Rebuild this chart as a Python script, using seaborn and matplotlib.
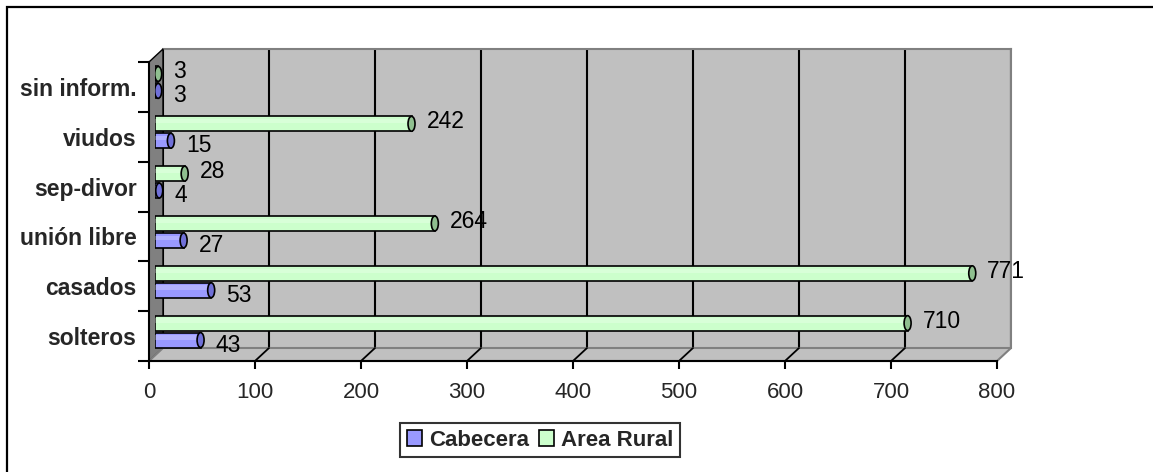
import matplotlib
matplotlib.use("Agg")
import matplotlib.pyplot as plt
import seaborn as sns
import pandas as pd
from matplotlib.patches import Polygon, Rectangle, Ellipse, Patch
from matplotlib.lines import Line2D

# ---- data (top to bottom) ----
categories = ['sin inform.', 'viudos', 'sep-divor', 'unión libre', 'casados', 'solteros']
cabecera = [3, 15, 4, 27, 53, 43]
area_rural = [3, 242, 28, 264, 771, 710]
series_names = ['Cabecera', 'Area Rural']
x_ticks = [0, 100, 200, 300, 400, 500, 600, 700, 800]

df = pd.DataFrame({
    'cat': categories * 2,
    'val': cabecera + area_rural,
    'serie': ['Cabecera'] * len(categories) + ['Area Rural'] * len(categories),
})

W, H = 1153, 472
sns.set_theme(style='white')
plt.rcParams['font.family'] = ['Liberation Sans', 'DejaVu Sans']

fig = plt.figure(figsize=(W / 100, H / 100), dpi=100)
fig.patch.set_facecolor('white')

def P(x, y):
    return (x / W, 1 - y / H)

def ax_rect(x0, x1, ytop, ybot):
    return [x0 / W, 1 - ybot / H, (x1 - x0) / W, (ybot - ytop) / H]

colors = {'Cabecera': '#9999FF', 'Area Rural': '#CCFFCC'}
caps = {'Cabecera': '#7070D8', 'Area Rural': '#8FBF8F'}

# geometry (pixels)
FX0, FX1, FY0, FY1 = 149, 997, 62, 361      # front plane
DX, DY = 14, -13                              # depth offset
MX, MY = 6, -4.5                              # bar plane offset

# back wall
axb = fig.add_axes(ax_rect(FX0 + DX, FX1 + DX, FY0 + DY, FY1 + DY), zorder=0)
axb.set_facecolor('#C0C0C0')
axb.set_xlim(0, 800)
axb.set_ylim(0, 1)
for s in axb.spines.values():
    s.set_color('#808080'); s.set_linewidth(1.5)
axb.spines['left'].set_visible(False)
axb.spines['bottom'].set_visible(False)
axb.set_xticks(x_ticks)
axb.set_yticks([])
axb.tick_params(axis='x', length=0, labelbottom=False)
axb.grid(axis='x', color='black', linewidth=1.5)

# left wall and floor
fig.patches.append(Polygon([P(FX0, FY0), P(FX0 + DX, FY0 + DY), P(FX0 + DX, FY1 + DY), P(FX0, FY1)],
                           closed=True, transform=fig.transFigure, facecolor='#808080',
                           edgecolor='black', linewidth=1, zorder=0.5))
fig.patches.append(Polygon([P(FX0, FY1), P(FX0 + DX, FY1 + DY), P(FX1 + DX, FY1 + DY), P(FX1, FY1)],
                           closed=True, transform=fig.transFigure, facecolor='#C0C0C0',
                           edgecolor='#808080', linewidth=1.5, zorder=0.5))
pxu = (FX1 - FX0) / 800
for t in x_ticks[1:-1]:
    x = FX0 + t * pxu
    fig.lines.append(Line2D([P(x, FY1)[0], P(x + DX, FY1 + DY)[0]],
                            [P(x, FY1)[1], P(x + DX, FY1 + DY)[1]],
                            transform=fig.transFigure, color='black', linewidth=1.3, zorder=0.6))

# bars plane
ax = fig.add_axes(ax_rect(FX0 + MX, FX1 + MX, FY0 + MY, FY1 + MY), zorder=1)
ax.patch.set_alpha(0)
sns.barplot(data=df, y='cat', x='val', hue='serie', order=categories,
            hue_order=['Area Rural', 'Cabecera'], palette=colors, orient='h',
            width=0.68, gap=0.12, edgecolor='black', linewidth=1.2, saturation=1,
            legend=False, ax=ax, errorbar=None)
ax.set_xlim(0, 800)
ax.set_ylim(len(categories) - 0.5, -0.5)
ax.axis('off')

bar_patches = [p for p in ax.patches if isinstance(p, Rectangle)]
cap_w = 7 / pxu
for p in bar_patches:
    w = p.get_width(); y = p.get_y(); h = p.get_height()
    yc = y + h / 2
    name = 'Cabecera' if yc > round(yc) else 'Area Rural'
    # light highlight stripe for cylinder look
    ax.add_patch(Rectangle((p.get_x(), y + h * 0.18), w, h * 0.3,
                           facecolor='white', alpha=0.25, edgecolor='none', zorder=p.get_zorder() + 0.1))
    ax.add_patch(Ellipse((p.get_x() + w, yc), cap_w, h, facecolor=caps[name],
                         edgecolor='black', linewidth=1.2, zorder=p.get_zorder() + 0.2))
    off = (15, 2) if name == 'Area Rural' else (15, -5)
    ax.annotate(f'{int(round(w))}', xy=(p.get_x() + w, yc), xytext=off,
                textcoords='offset pixels', ha='left', va='center', fontsize=16.5,
                color='black', zorder=10, annotation_clip=False)

# front plane: axes, ticks, labels
axf = fig.add_axes(ax_rect(FX0, FX1, FY0, FY1), zorder=2)
axf.patch.set_alpha(0)
axf.set_xlim(0, 800)
axf.set_ylim(len(categories) - 0.5, -0.5)
for s in ['top', 'right']:
    axf.spines[s].set_visible(False)
for s in ['left', 'bottom']:
    axf.spines[s].set_color('black'); axf.spines[s].set_linewidth(1.5)
axf.set_xticks(x_ticks)
axf.set_xticklabels([str(v) for v in x_ticks], fontsize=16)
axf.set_yticks(range(len(categories)))
axf.set_yticklabels(categories, fontsize=16.5, fontweight='bold')
axf.set_yticks([i - 0.5 for i in range(len(categories) + 1)], minor=True)
axf.tick_params(axis='y', which='major', length=0, pad=9, left=True)
axf.tick_params(axis='y', which='minor', length=8, width=1.5, color='black', direction='out', left=True)
axf.tick_params(axis='x', which='major', length=6, width=1.5, color='black', direction='out',
                bottom=True, pad=9)
axf.grid(False)

# legend
handles = [Patch(facecolor=colors[n], edgecolor='black', linewidth=1.2) for n in series_names]
leg = fig.legend(handles, series_names, loc='center', bbox_to_anchor=P(540, 440), ncol=2,
                 frameon=True, fancybox=False, shadow=False, handlelength=0.7, handleheight=0.7,
                 handletextpad=0.3, columnspacing=0.45, borderpad=0.3,
                 prop={'weight': 'bold', 'size': 16})
leg.get_frame().set_edgecolor('black')
leg.get_frame().set_linewidth(1.5)

# outer chart border
fig.patches.append(Rectangle(P(7, 480), (1170 - 7) / W, (480 - 7) / H, transform=fig.transFigure,
                             facecolor='none', edgecolor='black', linewidth=1.6, zorder=5))

fig.savefig('out.png', dpi=100)
